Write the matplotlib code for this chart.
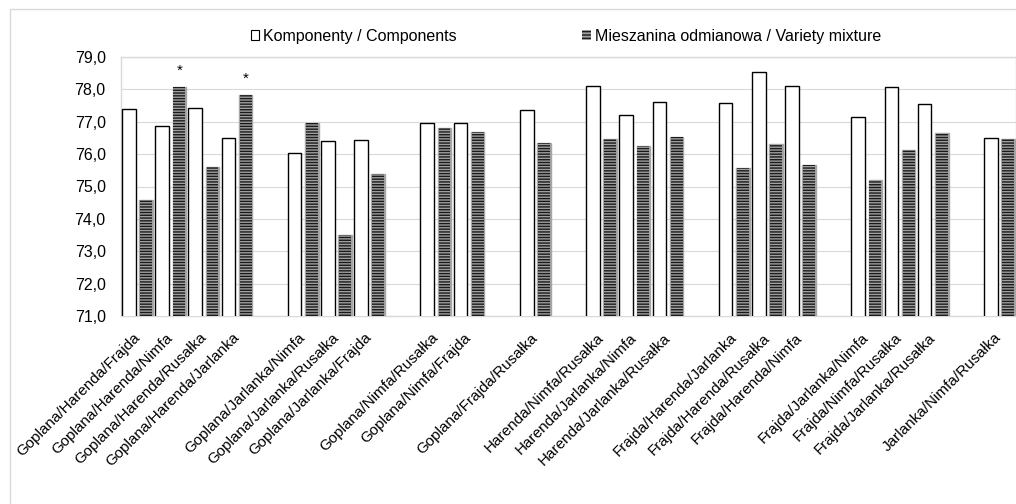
import numpy as np
import matplotlib
matplotlib.use("Agg")
import matplotlib.pyplot as plt
import matplotlib.transforms as mtransforms
from matplotlib.patches import Patch, Rectangle
from matplotlib.ticker import FuncFormatter

plt.rcParams['font.family'] = ['Liberation Sans', 'DejaVu Sans']
plt.rcParams['hatch.linewidth'] = 1.0

# mixtures, in the order shown; groups are separated by one empty slot
labels = [
    "Goplana/Harenda/Frajda", "Goplana/Harenda/Nimfa", "Goplana/Harenda/Rusałka", "Goplana/Harenda/Jarlanka",
    "Goplana/Jarlanka/Nimfa", "Goplana/Jarlanka/Rusałka", "Goplana/Jarlanka/Frajda",
    "Goplana/Nimfa/Rusałka", "Goplana/Nimfa/Frajda",
    "Goplana/Frajda/Rusałka",
    "Harenda/Nimfa/Rusałka", "Harenda/Jarlanka/Nimfa", "Harenda/Jarlanka/Rusałka",
    "Frajda/Harenda/Jarlanka", "Frajda/Harenda/Rusałka", "Frajda/Harenda/Nimfa",
    "Frajda/Jarlanka/Nimfa", "Frajda/Nimfa/Rusałka", "Frajda/Jarlanka/Rusałka",
    "Jarlanka/Nimfa/Rusałka",
]
group_sizes = [4, 3, 2, 1, 3, 3, 3, 1]

components = [77.40, 76.88, 77.43, 76.49,
              76.03, 76.42, 76.43,
              76.96, 76.96,
              77.36,
              78.11, 77.20, 77.61,
              77.59, 78.54, 78.11,
              77.14, 78.06, 77.54,
              76.49]
mixture = [74.58, 78.06, 75.60, 77.82,
           76.96, 73.51, 75.38,
           76.80, 76.67,
           76.33,
           76.46, 76.25, 76.53,
           75.57, 76.30, 75.65,
           75.19, 76.13, 76.64,
           76.46]
signif = ["", "*", "", "*"] + [""] * 16

# slot positions with a gap after each group
pos = []
slot = 0
for g in group_sizes:
    for _ in range(g):
        pos.append(slot)
        slot += 1
    slot += 1
pos = np.array(pos)
n_slots = slot - 1

W, H = 1016, 504
fig = plt.figure(figsize=(W / 100, H / 100), dpi=100)
ax = fig.add_axes([121 / W, 1 - 316 / H, 1 - 121 / W, (316 - 57) / H])

bw = 0.41
off = 0.26
ax.bar(pos - off, components, width=bw, color='white', edgecolor='black', linewidth=1.0, zorder=3)
ax.bar(pos + off, mixture, width=bw, color='#a0a0a0', edgecolor='#a6a6a6', linewidth=1.0, zorder=3)
ax.bar(pos + off, mixture, width=bw - 0.05, color='none', edgecolor='#1a1a1a', hatch='------',
       linewidth=0, zorder=4)

for x, v, s in zip(pos + off, mixture, signif):
    if s:
        ax.text(x, v + 0.3, s, ha='center', va='bottom', fontsize=11, zorder=5)

ax.set_xlim(-0.5, n_slots - 0.5)
ax.set_ylim(71, 79)
ax.set_yticks(np.arange(71, 79.5, 1))
ax.yaxis.set_major_formatter(FuncFormatter(lambda v, p: f"{v:.1f}".replace('.', ',')))
ax.grid(axis='y', color='#d9d9d9', linewidth=0.8, zorder=0)
ax.set_axisbelow(True)
ax.tick_params(axis='y', length=0, pad=11, labelsize=11.5)
ax.set_xticks(pos)
ax.set_xticklabels(labels, rotation=45, ha='right', rotation_mode='anchor', fontsize=11)
ax.tick_params(axis='x', length=0, pad=10.5)
shift = mtransforms.ScaledTranslation(-5 / 100, 0, fig.dpi_scale_trans)
for lab in ax.get_xticklabels():
    lab.set_transform(lab.get_transform() + shift)
for sp in ax.spines.values():
    sp.set_color('#d9d9d9')
    sp.set_linewidth(1.0)

handles = [Patch(facecolor='white', edgecolor='black', linewidth=0.8, label='Komponenty / Components'),
           Patch(facecolor='#a0a0a0', edgecolor='#1a1a1a', hatch='-----', linewidth=0,
                 label='Mieszanina odmianowa / Variety mixture')]
fig.legend(handles=handles, loc='center', bbox_to_anchor=(566 / W, 1 - 36 / H), ncol=2,
           frameon=False, fontsize=11.5, handlelength=0.55, handleheight=0.55,
           handletextpad=0.25, columnspacing=7.85)

fig.add_artist(Rectangle((10 / W, -0.1), 1.2, 1.1 - 9 / H, transform=fig.transFigure,
                         fill=False, edgecolor='#d9d9d9', linewidth=1.0))

fig.savefig("out.png", dpi=100)
